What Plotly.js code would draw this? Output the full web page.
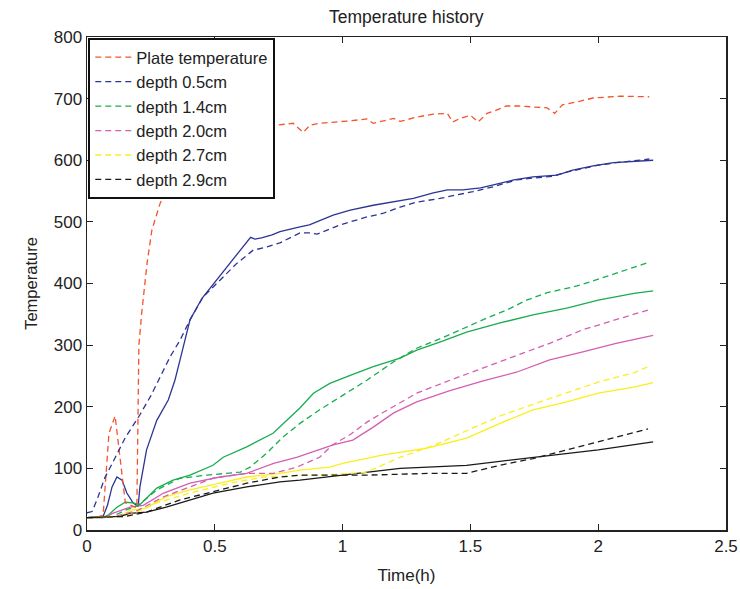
<!DOCTYPE html>
<html>
<head>
<meta charset="utf-8">
<script src="https://cdn.plot.ly/plotly-3.0.1.min.js"></script>
<style>html,body{margin:0;padding:0;background:#fff;}#chart{width:740px;height:589px;}</style>
</head>
<body>
<div id="chart"></div>
<script>
// Plate temperature (dashed)
const plateT = [0, 0.03, 0.063, 0.086, 0.11, 0.13, 0.15, 0.195, 0.203, 0.214, 0.235, 0.254, 0.286, 0.305, 0.33, 0.4, 0.5, 0.6, 0.7, 0.806, 0.846, 0.872, 0.91, 0.98, 1.03, 1.095, 1.12, 1.2, 1.225, 1.29, 1.355, 1.41, 1.43, 1.46, 1.5, 1.53, 1.565, 1.6, 1.64, 1.69, 1.745, 1.8, 1.83, 1.86, 1.93, 1.98, 2.085, 2.2];
const plateV = [20, 20, 24, 157, 185, 109, 44, 36, 300, 352, 433, 487, 530, 547, 580, 620, 640, 650, 655, 660, 645, 657, 660, 662, 664, 667, 660, 668, 663, 670, 675, 676, 662, 668, 673, 662, 676, 681, 688, 688, 686, 685, 676, 690, 696, 701, 704, 703];

// depth 0.5cm
const d05dT = [0, 0.02, 0.04, 0.07, 0.10, 0.15, 0.207, 0.25, 0.28, 0.30, 0.325, 0.364, 0.403, 0.454, 0.52, 0.587, 0.65, 0.70, 0.755, 0.833, 0.87, 0.90, 0.96, 0.99, 1.03, 1.095, 1.16, 1.225, 1.29, 1.38, 1.45, 1.51, 1.59, 1.68, 1.745, 1.82, 1.88, 1.94, 2.0, 2.07, 2.14, 2.2];
const d05dV = [28, 30, 50, 85, 109, 150, 187, 218, 243, 260, 281, 308, 341, 378, 406, 433, 454, 459, 466, 482, 482, 480, 490, 495, 500, 508, 514, 524, 532, 538, 544, 549, 557, 568, 571, 574, 581, 587, 592, 596, 599, 602];
const d05sT = [0, 0.063, 0.08, 0.098, 0.117, 0.137, 0.156, 0.18, 0.2, 0.207, 0.233, 0.273, 0.318, 0.344, 0.364, 0.39, 0.403, 0.45, 0.508, 0.572, 0.64, 0.657, 0.683, 0.724, 0.755, 0.833, 0.87, 0.963, 1.03, 1.12, 1.2, 1.277, 1.355, 1.41, 1.47, 1.54, 1.59, 1.67, 1.745, 1.84, 1.90, 1.98, 2.06, 2.14, 2.215];
const d05sV = [20, 22, 40, 70, 86, 81, 60, 44, 38, 70, 130, 178, 211, 243, 276, 319, 341, 376, 406, 438, 475, 472, 474, 479, 484, 492, 495, 511, 519, 527, 532, 538, 547, 552, 552, 555, 560, 568, 573, 576, 584, 591, 596, 598, 600];

// depth 1.4cm
const d14dT = [0, 0.1, 0.15, 0.2, 0.273, 0.364, 0.47, 0.548, 0.6, 0.638, 0.704, 0.767, 0.833, 0.91, 0.99, 1.095, 1.2, 1.29, 1.38, 1.485, 1.565, 1.643, 1.72, 1.80, 1.917, 2.03, 2.11, 2.195];
const d14dV = [20, 22, 32, 40, 65, 84, 89, 92, 94, 102, 125, 151, 173, 195, 216, 243, 273, 295, 310, 330, 344, 357, 373, 385, 396, 411, 422, 434];
const d14sT = [0, 0.06, 0.083, 0.117, 0.15, 0.18, 0.207, 0.233, 0.273, 0.337, 0.403, 0.493, 0.533, 0.625, 0.728, 0.782, 0.833, 0.886, 0.95, 1.03, 1.12, 1.225, 1.29, 1.38, 1.485, 1.616, 1.745, 1.877, 2.0, 2.14, 2.215];
const d14sV = [20, 20, 24, 37, 45, 44, 41, 52, 68, 81, 89, 105, 118, 135, 157, 178, 198, 222, 238, 251, 265, 279, 292, 305, 321, 336, 349, 360, 373, 384, 388];

// depth 2.0cm
const d20dT = [0, 0.1, 0.2, 0.3, 0.493, 0.625, 0.73, 0.82, 0.91, 0.96, 1.03, 1.095, 1.16, 1.225, 1.29, 1.42, 1.55, 1.68, 1.81, 1.94, 2.07, 2.195];
const d20dV = [20, 21, 32, 54, 84, 92, 92, 102, 118, 138, 155, 175, 191, 207, 222, 243, 263, 284, 303, 325, 341, 357];
const d20sT = [0, 0.07, 0.10, 0.168, 0.22, 0.30, 0.403, 0.52, 0.625, 0.73, 0.82, 0.91, 0.963, 1.04, 1.12, 1.2, 1.29, 1.42, 1.55, 1.68, 1.81, 1.94, 2.07, 2.215];
const d20sV = [20, 20, 27, 37, 40, 60, 76, 86, 92, 108, 118, 131, 138, 146, 167, 190, 208, 226, 242, 256, 276, 289, 303, 316];

// depth 2.7cm
const d27dT = [0, 0.15, 0.2, 0.273, 0.403, 0.56, 0.69, 0.885, 1.0, 1.095, 1.225, 1.355, 1.485, 1.616, 1.745, 1.877, 2.0, 2.14, 2.195];
const d27dV = [20, 22, 30, 44, 60, 76, 86, 89, 91, 94, 118, 137, 161, 185, 204, 222, 240, 255, 265];
const d27sT = [0, 0.13, 0.168, 0.233, 0.31, 0.403, 0.52, 0.625, 0.755, 0.833, 0.95, 1.0, 1.16, 1.33, 1.485, 1.616, 1.745, 1.877, 2.0, 2.14, 2.215];
const d27sV = [20, 22, 32, 36, 54, 65, 76, 86, 92, 97, 102, 108, 122, 133, 149, 173, 195, 208, 222, 232, 239];

// depth 2.9cm
const d29dT = [0, 0.15, 0.233, 0.364, 0.493, 0.625, 0.755, 0.833, 1.095, 1.355, 1.485, 1.616, 1.745, 1.877, 2.0, 2.14, 2.195];
const d29dV = [20, 22, 29, 49, 62, 76, 86, 89, 89, 92, 92, 105, 116, 130, 143, 157, 164];
const d29sT = [0, 0.13, 0.168, 0.233, 0.31, 0.403, 0.493, 0.625, 0.755, 0.833, 1.0, 1.225, 1.485, 1.745, 2.0, 2.215];
const d29sV = [20, 22, 27, 29, 37, 49, 60, 70, 78, 81, 89, 100, 105, 118, 130, 143];

const legendNames = ['Plate temperature', 'depth 0.5cm', 'depth 1.4cm', 'depth 2.0cm', 'depth 2.7cm', 'depth 2.9cm'];
const xTickVals = [0, 0.5, 1, 1.5, 2, 2.5];
const xTickText = ['0', '0.5', '1', '1.5', '2', '2.5'];
const yTickVals = [0, 100, 200, 300, 400, 500, 600, 700, 800];

const colors = ['#f4532b', '#2c3593', '#17ad4f', '#d35fb2', '#fbee1a', '#1a1a1a'];
const DASH = '6px,4px';
const W = 1.3;

function solid(x, y, c) {
  return {x: x, y: y, type: 'scatter', mode: 'lines', showlegend: false, hoverinfo: 'skip',
          line: {color: c, width: W}};
}
function dashed(x, y, c, name) {
  return {x: x, y: y, type: 'scatter', mode: 'lines', name: name,
          line: {color: c, width: W, dash: DASH}};
}

const data = [
  solid(d05sT, d05sV, colors[1]),
  solid(d14sT, d14sV, colors[2]),
  solid(d20sT, d20sV, colors[3]),
  solid(d27sT, d27sV, colors[4]),
  solid(d29sT, d29sV, colors[5]),
  dashed(plateT, plateV, colors[0], legendNames[0]),
  dashed(d05dT, d05dV, colors[1], legendNames[1]),
  dashed(d14dT, d14dV, colors[2], legendNames[2]),
  dashed(d20dT, d20dV, colors[3], legendNames[3]),
  dashed(d27dT, d27dV, colors[4], legendNames[4]),
  dashed(d29dT, d29dV, colors[5], legendNames[5])
];

const FONT = 'Liberation Sans, Arial, sans-serif';
const layout = {
  width: 740, height: 589,
  margin: {l: 87, r: 14, t: 37, b: 59, pad: 0},
  paper_bgcolor: '#ffffff', plot_bgcolor: '#ffffff',
  font: {family: FONT, size: 17, color: '#222'},
  title: {text: 'Temperature history', font: {family: FONT, size: 17.5, color: '#222'},
          x: 0.549, xanchor: 'center', y: 1 - 17/589, yanchor: 'middle', yref: 'container'},
  xaxis: {
    range: [0, 2.5], tickvals: xTickVals, ticktext: xTickText,
    ticks: 'inside', ticklen: 6, tickwidth: 1, tickcolor: '#222',
    showline: true, linecolor: '#222', linewidth: 1.5, mirror: 'ticks',
    showgrid: false, zeroline: false,
    tickfont: {family: FONT, size: 17, color: '#222'},
    title: {text: 'Time(h)', font: {family: FONT, size: 17, color: '#222'}, standoff: 14},
    automargin: false
  },
  yaxis: {
    range: [0, 800], tickvals: yTickVals,
    ticks: 'inside', ticklen: 6, tickwidth: 1, tickcolor: '#222',
    showline: true, linecolor: '#222', linewidth: 1.5, mirror: 'ticks',
    showgrid: false, zeroline: false,
    tickfont: {family: FONT, size: 17, color: '#222'},
    title: {text: 'Temperature', font: {family: FONT, size: 16.5, color: '#222'}, standoff: 12},
    automargin: false
  },
  legend: {
    x: 0.002, y: 0.998, xanchor: 'left', yanchor: 'top',
    bgcolor: '#ffffff', bordercolor: '#111', borderwidth: 2,
    font: {family: FONT, size: 16.5, color: '#222'},
    traceorder: 'normal', itemwidth: 36, tracegroupgap: 0
  }
};

Plotly.newPlot('chart', data, layout, {displayModeBar: false, staticPlot: true});
</script>
</body>
</html>
